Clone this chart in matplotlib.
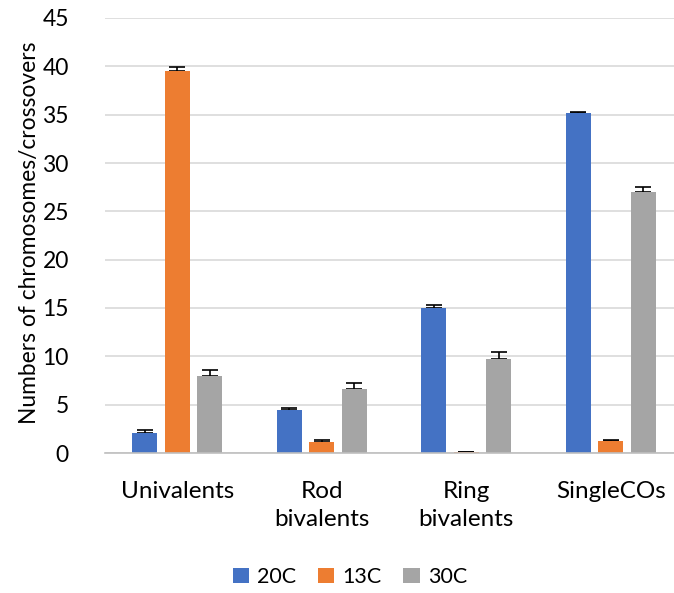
import matplotlib.pyplot as plt
import numpy as np

plt.rcParams['font.family'] = ['Lato', 'DejaVu Sans']

categories = ["Univalents", "Rod\nbivalents", "Ring\nbivalents", "SingleCOs"]
series = ["20C", "13C", "30C"]
colors = ["#4472C4", "#ED7D31", "#A5A5A5"]

# mean counts per condition
vals_20c = [2.1, 4.4, 15.0, 35.15]
vals_13c = [39.55, 1.17, 0.08, 1.24]
vals_30c = [8.0, 6.65, 9.75, 26.95]

# upper error bar lengths
err_20c = [0.24, 0.28, 0.27, 0.08]
err_13c = [0.38, 0.16, 0.06, 0.07]
err_30c = [0.55, 0.58, 0.65, 0.55]

values = [vals_20c, vals_13c, vals_30c]
errors = [err_20c, err_13c, err_30c]

fig = plt.figure(figsize=(6.74, 5.93), dpi=100)
ax = fig.add_axes([105 / 674, 1 - 453 / 593, 578 / 674, 435 / 593])

x = np.arange(len(categories))
width = 0.175
step = 0.225

for i, (name, vals, errs, c) in enumerate(zip(series, values, errors, colors)):
    pos = x + (i - 1) * step
    ax.bar(pos, vals, width, color=c, label=name, zorder=2)
    # error bars sit behind the bars so only the upper whisker shows
    ax.errorbar(pos, vals, yerr=[np.zeros(len(errs)), errs], fmt="none",
                ecolor="black", elinewidth=1.2, capsize=6, capthick=1.2, zorder=1.5)

ax.set_xlim(-0.5, 3.5)
ax.set_ylim(0, 45)
ax.set_yticks(np.arange(0, 46, 5))
ax.yaxis.grid(True, color="#d9d9d9", linewidth=1.2, zorder=0)
ax.set_axisbelow(True)

for side in ["top", "right", "left"]:
    ax.spines[side].set_visible(False)
ax.spines["bottom"].set_color("#bfbfbf")
ax.spines["bottom"].set_linewidth(1.2)
ax.spines["bottom"].set_zorder(2.5)

ax.set_xticks(x)
ax.set_xticklabels(categories, fontsize=17.5, linespacing=1.45)
ax.tick_params(axis="x", length=0, pad=20)
ax.tick_params(axis="y", length=0, labelsize=16.5, pad=26)

fig.text(30 / 674, 1 - 233 / 593, "Numbers of chromosomes/crossovers",
         rotation=90, ha="center", va="center", fontsize=16.4)

fig.legend(loc="center", bbox_to_anchor=(350 / 674, 1 - 577 / 593), ncol=3,
           frameon=False, fontsize=15.5, handlelength=0.75, handleheight=0.75,
           handletextpad=0.4, columnspacing=1.0)

fig.savefig("out.png", dpi=100, facecolor="white")
